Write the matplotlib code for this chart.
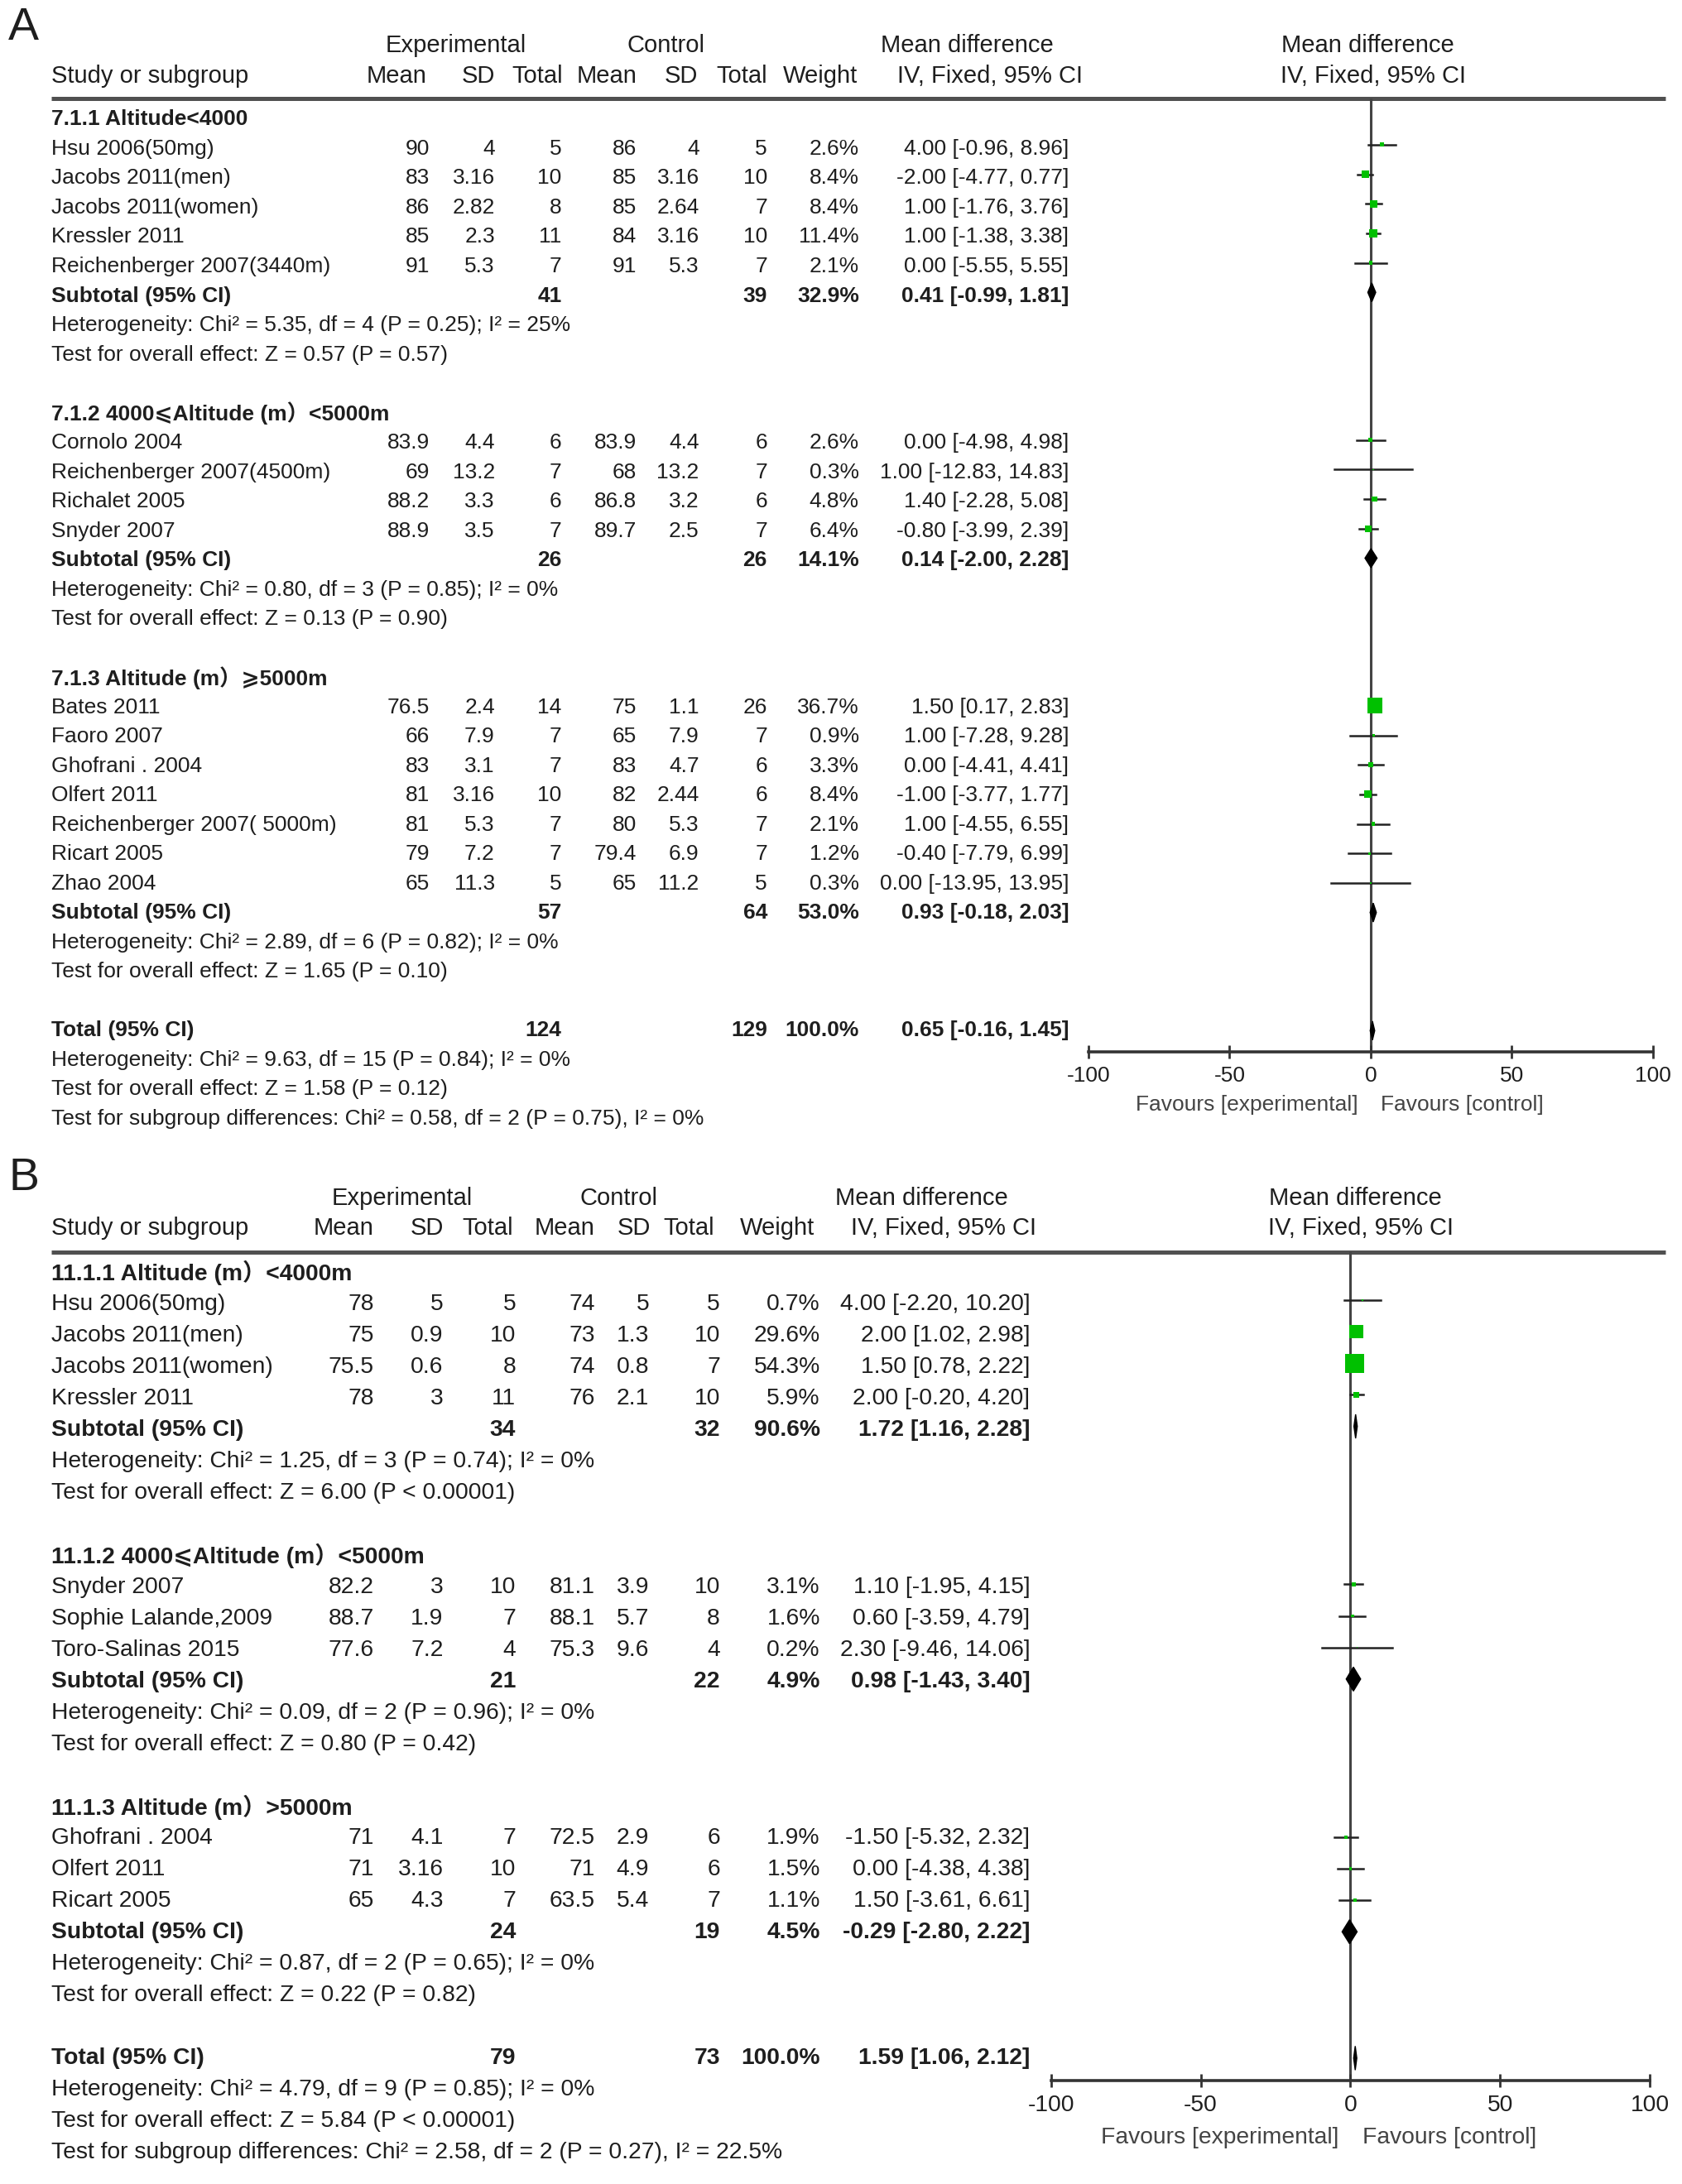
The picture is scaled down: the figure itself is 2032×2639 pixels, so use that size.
import numpy as np
import matplotlib.pyplot as plt
from matplotlib.patches import Polygon

plt.rcParams['font.family'] = ['Liberation Sans', 'DejaVu Sans', 'Noto Sans CJK SC']

# ---------------- panel A data ----------------
a_groups = ["7.1.1 Altitude<4000", "7.1.2 4000⩽Altitude (m）<5000m", "7.1.3 Altitude (m）⩾5000m"]
a_study = ["Hsu 2006(50mg)", "Jacobs 2011(men)", "Jacobs 2011(women)", "Kressler 2011",
           "Reichenberger 2007(3440m)",
           "Cornolo 2004", "Reichenberger 2007(4500m)", "Richalet 2005", "Snyder 2007",
           "Bates 2011", "Faoro 2007", "Ghofrani . 2004", "Olfert 2011",
           "Reichenberger 2007( 5000m)", "Ricart 2005", "Zhao 2004"]
a_group = [0, 0, 0, 0, 0, 1, 1, 1, 1, 2, 2, 2, 2, 2, 2, 2]
a_exp_mean = [90, 83, 86, 85, 91, 83.9, 69, 88.2, 88.9, 76.5, 66, 83, 81, 81, 79, 65]
a_exp_sd = [4, 3.16, 2.82, 2.3, 5.3, 4.4, 13.2, 3.3, 3.5, 2.4, 7.9, 3.1, 3.16, 5.3, 7.2, 11.3]
a_exp_n = [5, 10, 8, 11, 7, 6, 7, 6, 7, 14, 7, 7, 10, 7, 7, 5]
a_ctl_mean = [86, 85, 85, 84, 91, 83.9, 68, 86.8, 89.7, 75, 65, 83, 82, 80, 79.4, 65]
a_ctl_sd = [4, 3.16, 2.64, 3.16, 5.3, 4.4, 13.2, 3.2, 2.5, 1.1, 7.9, 4.7, 2.44, 5.3, 6.9, 11.2]
a_ctl_n = [5, 10, 7, 10, 7, 6, 7, 6, 7, 26, 7, 6, 6, 7, 7, 5]
a_weight = [2.6, 8.4, 8.4, 11.4, 2.1, 2.6, 0.3, 4.8, 6.4, 36.7, 0.9, 3.3, 8.4, 2.1, 1.2, 0.3]
a_md = [4.00, -2.00, 1.00, 1.00, 0.00, 0.00, 1.00, 1.40, -0.80, 1.50, 1.00, 0.00, -1.00, 1.00, -0.40, 0.00]
a_lo = [-0.96, -4.77, -1.76, -1.38, -5.55, -4.98, -12.83, -2.28, -3.99, 0.17, -7.28, -4.41, -3.77, -4.55, -7.79, -13.95]
a_hi = [8.96, 0.77, 3.76, 3.38, 5.55, 4.98, 14.83, 5.08, 2.39, 2.83, 9.28, 4.41, 1.77, 6.55, 6.99, 13.95]
a_sub_exp_n = [41, 26, 57]
a_sub_ctl_n = [39, 26, 64]
a_sub_weight = [32.9, 14.1, 53.0]
a_sub_md = [0.41, 0.14, 0.93]
a_sub_lo = [-0.99, -2.00, -0.18]
a_sub_hi = [1.81, 2.28, 2.03]
a_het = ["Heterogeneity: Chi² = 5.35, df = 4 (P = 0.25); I² = 25%",
         "Heterogeneity: Chi² = 0.80, df = 3 (P = 0.85); I² = 0%",
         "Heterogeneity: Chi² = 2.89, df = 6 (P = 0.82); I² = 0%"]
a_zt = ["Test for overall effect: Z = 0.57 (P = 0.57)",
        "Test for overall effect: Z = 0.13 (P = 0.90)",
        "Test for overall effect: Z = 1.65 (P = 0.10)"]
a_tot_n = [124, 129]
a_tot_ci = [0.65, -0.16, 1.45]
a_tot_text = ["Heterogeneity: Chi² = 9.63, df = 15 (P = 0.84); I² = 0%",
              "Test for overall effect: Z = 1.58 (P = 0.12)",
              "Test for subgroup differences: Chi² = 0.58, df = 2 (P = 0.75), I² = 0%"]

# ---------------- panel B data ----------------
b_groups = ["11.1.1 Altitude (m）<4000m", "11.1.2 4000⩽Altitude (m）<5000m", "11.1.3 Altitude (m）>5000m"]
b_study = ["Hsu 2006(50mg)", "Jacobs 2011(men)", "Jacobs 2011(women)", "Kressler 2011",
           "Snyder 2007", "Sophie Lalande,2009", "Toro-Salinas 2015",
           "Ghofrani . 2004", "Olfert 2011", "Ricart 2005"]
b_group = [0, 0, 0, 0, 1, 1, 1, 2, 2, 2]
b_exp_mean = [78, 75, 75.5, 78, 82.2, 88.7, 77.6, 71, 71, 65]
b_exp_sd = [5, 0.9, 0.6, 3, 3, 1.9, 7.2, 4.1, 3.16, 4.3]
b_exp_n = [5, 10, 8, 11, 10, 7, 4, 7, 10, 7]
b_ctl_mean = [74, 73, 74, 76, 81.1, 88.1, 75.3, 72.5, 71, 63.5]
b_ctl_sd = [5, 1.3, 0.8, 2.1, 3.9, 5.7, 9.6, 2.9, 4.9, 5.4]
b_ctl_n = [5, 10, 7, 10, 10, 8, 4, 6, 6, 7]
b_weight = [0.7, 29.6, 54.3, 5.9, 3.1, 1.6, 0.2, 1.9, 1.5, 1.1]
b_md = [4.00, 2.00, 1.50, 2.00, 1.10, 0.60, 2.30, -1.50, 0.00, 1.50]
b_lo = [-2.20, 1.02, 0.78, -0.20, -1.95, -3.59, -9.46, -5.32, -4.38, -3.61]
b_hi = [10.20, 2.98, 2.22, 4.20, 4.15, 4.79, 14.06, 2.32, 4.38, 6.61]
b_sub_exp_n = [34, 21, 24]
b_sub_ctl_n = [32, 22, 19]
b_sub_weight = [90.6, 4.9, 4.5]
b_sub_md = [1.72, 0.98, -0.29]
b_sub_lo = [1.16, -1.43, -2.80]
b_sub_hi = [2.28, 3.40, 2.22]
b_het = ["Heterogeneity: Chi² = 1.25, df = 3 (P = 0.74); I² = 0%",
         "Heterogeneity: Chi² = 0.09, df = 2 (P = 0.96); I² = 0%",
         "Heterogeneity: Chi² = 0.87, df = 2 (P = 0.65); I² = 0%"]
b_zt = ["Test for overall effect: Z = 6.00 (P < 0.00001)",
        "Test for overall effect: Z = 0.80 (P = 0.42)",
        "Test for overall effect: Z = 0.22 (P = 0.82)"]
b_tot_n = [79, 73]
b_tot_ci = [1.59, 1.06, 2.12]
b_tot_text = ["Heterogeneity: Chi² = 4.79, df = 9 (P = 0.85); I² = 0%",
              "Test for overall effect: Z = 5.84 (P < 0.00001)",
              "Test for subgroup differences: Chi² = 2.58, df = 2 (P = 0.27), I² = 22.5%"]

ticks = [-100, -50, 0, 50, 100]

W, H = 1210.0, 1571.5   # layout units
TXT = '#1e1e1e'
GREEN = '#00c000'

fig = plt.figure(figsize=(20.32, 26.39), dpi=100)
tax = fig.add_axes([0, 0, 1, 1])
tax.set_xlim(0, W)
tax.set_ylim(H, 0)
tax.axis('off')


def ci_str(m, lo, hi):
    return f"{m:.2f} [{lo:.2f}, {hi:.2f}]"


def draw_panel(L, groups, study, group, em, esd, en, cm, csd, cn, wt, md, lo, hi,
               s_en, s_cn, s_wt, s_md, s_lo, s_hi, het, zt, tot_n, tot_ci, tot_text):
    fs = L['fs']
    hfs = L['hfs']
    y0, dy = L['y0'], L['dy']
    cols = L['cols']

    def ty(r):
        return y0 + dy * r

    # headers
    tax.text(6, L['label_y'], L['label'], fontsize=40, color=TXT, va='center', ha='left')
    for xc, s in L['head1']:
        tax.text(xc, L['h1'], s, fontsize=hfs, color=TXT, ha='center', va='center')
    tax.text(37, L['h2'], "Study or subgroup", fontsize=hfs, color=TXT, ha='left', va='center')
    for xr, s in zip(L['head_right'], ["Mean", "SD", "Total", "Mean", "SD", "Total", "Weight"]):
        tax.text(xr, L['h2'], s, fontsize=hfs, color=TXT, ha='right', va='center')
    tax.text(L['ci_head'], L['h2'], "IV, Fixed, 95% CI", fontsize=hfs, color=TXT, ha='center', va='center')
    tax.text(L['rh2'], L['h2'], "IV, Fixed, 95% CI", fontsize=hfs, color=TXT, ha='center', va='center')
    tax.plot([37, 1198], [L['hline'], L['hline']], color='#505050', lw=3.6, solid_capstyle='butt')

    # forest axes
    x0, x1 = L['xm100'], L['xp100']
    fax = fig.add_axes([x0 / W, 1 - L['axis_y'] / H, (x1 - x0) / W, (L['axis_y'] - L['hline']) / H])
    fax.set_xlim(-100, 100)
    fax.set_ylim((L['axis_y'] - y0) / dy, (L['hline'] - y0) / dy + 0.15)
    fax.patch.set_alpha(0)
    for sp in ['top', 'left', 'right']:
        fax.spines[sp].set_visible(False)
    fax.spines['bottom'].set_linewidth(2.6)
    fax.spines['bottom'].set_color('#333333')
    fax.set_xticks(ticks)
    fax.set_xticklabels([str(t) for t in ticks])
    fax.tick_params(axis='x', direction='inout', length=12, width=2, color='#333333',
                    labelsize=fs, labelcolor=TXT, pad=6)
    fax.set_yticks([])
    fax.axvline(0, color='#444444', lw=2.2, zorder=1)

    r = 0
    idx = np.arange(len(study))
    for g, gname in enumerate(groups):
        tax.text(37, ty(r), gname, fontsize=fs, color=TXT, fontweight='bold', ha='left', va='center')
        r += 1
        for i in idx[np.array(group) == g]:
            y = ty(r)
            tax.text(37, y, study[i], fontsize=fs, color=TXT, ha='left', va='center')
            vals = [f"{em[i]:g}", f"{esd[i]:g}", f"{en[i]}", f"{cm[i]:g}", f"{csd[i]:g}",
                    f"{cn[i]}", f"{wt[i]:.1f}%", ci_str(md[i], lo[i], hi[i])]
            for xr, v in zip(cols, vals):
                tax.text(xr, y, v, fontsize=fs, color=TXT, ha='right', va='center')
            fax.plot([lo[i], hi[i]], [r, r], color='#222222', lw=1.8, zorder=2)
            fax.scatter([md[i]], [r], marker='s', s=5.0 * wt[i], color=GREEN,
                        edgecolors='none', zorder=3)
            r += 1
        y = ty(r)
        tax.text(37, y, "Subtotal (95% CI)", fontsize=fs, color=TXT, fontweight='bold', ha='left', va='center')
        for xr, v in [(cols[2], f"{s_en[g]}"), (cols[5], f"{s_cn[g]}"), (cols[6], f"{s_wt[g]:.1f}%"),
                      (cols[7], ci_str(s_md[g], s_lo[g], s_hi[g]))]:
            tax.text(xr, y, v, fontsize=fs, color=TXT, fontweight='bold', ha='right', va='center')
        h = L['dh']
        fax.add_patch(Polygon([[s_lo[g], r], [s_md[g], r - h], [s_hi[g], r], [s_md[g], r + h]],
                              closed=True, color='black', zorder=4))
        r += 1
        tax.text(37, ty(r), het[g], fontsize=fs, color=TXT, ha='left', va='center')
        r += 1
        tax.text(37, ty(r), zt[g], fontsize=fs, color=TXT, ha='left', va='center')
        r += 2

    y = ty(r)
    tax.text(37, y, "Total (95% CI)", fontsize=fs, color=TXT, fontweight='bold', ha='left', va='center')
    for xr, v in [(cols[2], f"{tot_n[0]}"), (cols[5], f"{tot_n[1]}"), (cols[6], "100.0%"),
                  (cols[7], ci_str(*tot_ci))]:
        tax.text(xr, y, v, fontsize=fs, color=TXT, fontweight='bold', ha='right', va='center')
    h = L['dh']
    m, l, u = tot_ci
    fax.add_patch(Polygon([[l, r], [m, r - h], [u, r], [m, r + h]], closed=True, color='black', zorder=4))
    for k, s in enumerate(tot_text):
        tax.text(37, ty(r + 1 + k), s, fontsize=fs, color=TXT, ha='left', va='center')

    tax.text(L['fav_l'], L['fav_y'], "Favours [experimental]", fontsize=fs, color='#444444',
             ha='right', va='center')
    tax.text(L['fav_r'], L['fav_y'], "Favours [control]", fontsize=fs, color='#444444',
             ha='left', va='center')


layout_a = dict(label='A', fs=19.0, hfs=21.0, y0=86, dy=21.15, label_y=20, h1=33, h2=55, hline=71,
                axis_y=757, xm100=783, xp100=1189,
                cols=[309, 356, 404, 458, 503, 552, 618, 769],
                head_right=[307, 356, 405, 458, 502, 552, 617], ci_head=712,
                head1=[(328, "Experimental"), (479, "Control"), (696, "Mean difference"),
                       (984, "Mean difference")],
                rh2=988, dh=0.32, fav_y=795, fav_l=977, fav_r=993)
layout_b = dict(label='B', fs=20.3, hfs=21.0, y0=916, dy=22.6, label_y=848, h1=862, h2=884, hline=901,
                axis_y=1497, xm100=756, xp100=1187,
                cols=[269, 319, 371, 428, 467, 518, 590, 741],
                head_right=[269, 319, 369, 428, 468, 514, 586], ci_head=679,
                head1=[(289, "Experimental"), (445, "Control"), (663, "Mean difference"),
                       (975, "Mean difference")],
                rh2=979, dh=0.38, fav_y=1538, fav_l=963, fav_r=980)

draw_panel(layout_a, a_groups, a_study, a_group, a_exp_mean, a_exp_sd, a_exp_n, a_ctl_mean, a_ctl_sd,
           a_ctl_n, a_weight, a_md, a_lo, a_hi, a_sub_exp_n, a_sub_ctl_n, a_sub_weight, a_sub_md,
           a_sub_lo, a_sub_hi, a_het, a_zt, a_tot_n, a_tot_ci, a_tot_text)
draw_panel(layout_b, b_groups, b_study, b_group, b_exp_mean, b_exp_sd, b_exp_n, b_ctl_mean, b_ctl_sd,
           b_ctl_n, b_weight, b_md, b_lo, b_hi, b_sub_exp_n, b_sub_ctl_n, b_sub_weight, b_sub_md,
           b_sub_lo, b_sub_hi, b_het, b_zt, b_tot_n, b_tot_ci, b_tot_text)

fig.savefig('out.png', dpi=100, facecolor='white')
